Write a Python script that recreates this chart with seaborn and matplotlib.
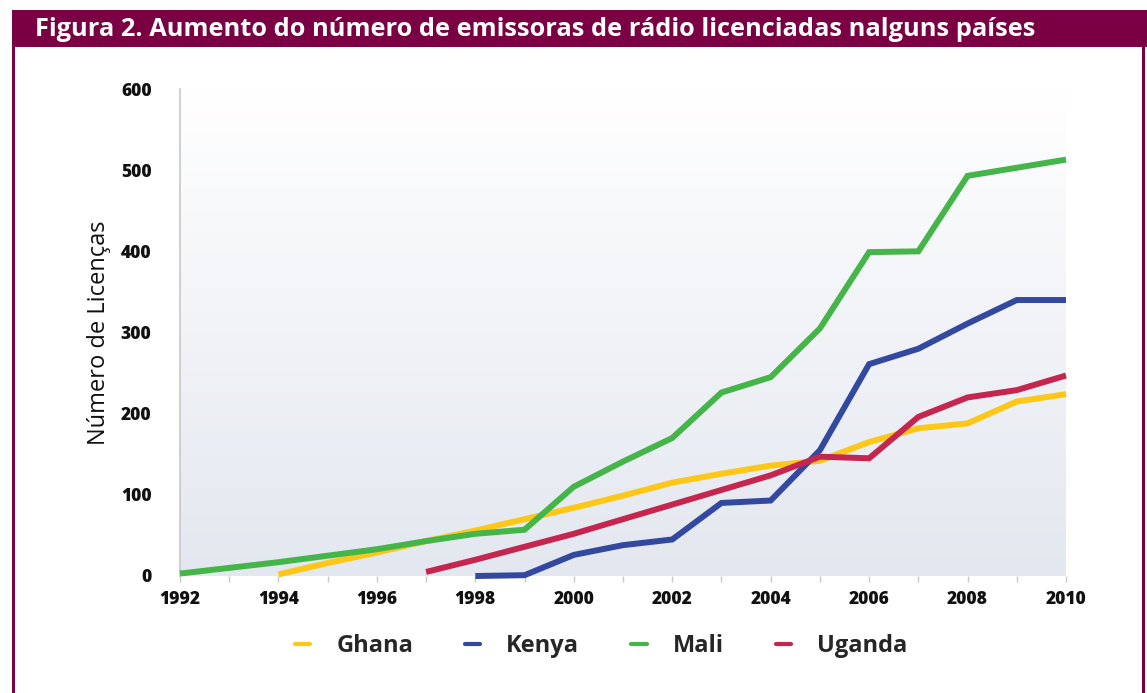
import numpy as np
import pandas as pd
import matplotlib
matplotlib.use("Agg")
import matplotlib.pyplot as plt
import seaborn as sns
from matplotlib.patches import Rectangle
from matplotlib.lines import Line2D
from matplotlib.colors import LinearSegmentedColormap

years = list(range(1992, 2011))
ghana = [np.nan, np.nan, 2, 16, 29, 43, 56, 70, 84, 99, 115, 126, 136, 142, 165, 182, 188, 215, 224]
kenya = [np.nan]*6 + [0, 1, 26, 38, 45, 90, 93, 155, 261, 280, 311, 340, 340]
mali = [3, 10, 17, 25, 33, 43, 52, 57, 110, 141, 170, 226, 245, 305, 399, 400, 493, 503, 513]
uganda = [np.nan]*5 + [5, 20, 36, 52, 70, 88, 106, 124, 147, 145, 196, 220, 229, 247]

countries = ["Ghana", "Kenya", "Mali", "Uganda"]
colors = ["#FDC718", "#3349A0", "#45B549", "#C5264F"]

title = "Figura 2. Aumento do número de emissoras de rádio licenciadas nalguns países"
ylabel = "Número de Licenças"

df = pd.DataFrame({"Ano": years, "Ghana": ghana, "Kenya": kenya, "Mali": mali, "Uganda": uganda})
long = df.melt(id_vars="Ano", var_name="País", value_name="Licenças").dropna()

sns.set_theme(style="white")
plt.rcParams["font.family"] = ["Open Sans", "DejaVu Sans"]

W, H = 1147, 693
fig = plt.figure(figsize=(W/100, H/100), dpi=100)
maroon = "#7A0043"

fig.patches.append(Rectangle((12/W, 1-47/H), 1-12/W, 37/H, transform=fig.transFigure,
                             facecolor=maroon, edgecolor="none", zorder=0))
fig.patches.append(Rectangle((12/W, 0), 3/W, 1-47/H, transform=fig.transFigure,
                             facecolor=maroon, edgecolor="none", zorder=0))
fig.patches.append(Rectangle((1142/W, 0), 3/W, 1-47/H, transform=fig.transFigure,
                             facecolor=maroon, edgecolor="none", zorder=0))
fig.text(35/W, 1-29/H, title, color="white", fontsize=18.3, fontweight="bold",
         va="center", ha="left")

ax = fig.add_axes([180/W, 1-576/H, (1066-180)/W, (576-89)/H])
grad = np.linspace(0, 1, 256).reshape(-1, 1)
cmap = LinearSegmentedColormap.from_list("bg", ["#E3E7EF", "#FFFFFF"])
ax.imshow(grad, cmap=cmap, aspect="auto", extent=[1992, 2010, 0, 600], origin="lower", zorder=0)

sns.lineplot(data=long, x="Ano", y="Licenças", hue="País", hue_order=countries,
             palette=colors, linewidth=4.3, ax=ax, legend=False, zorder=3)
for ln in ax.lines:
    ln.set_clip_on(False)
    ln.set_solid_capstyle("butt")
    ln.set_solid_joinstyle("miter")

ax.set_xlim(1992, 2010)
ax.set_ylim(0, 600)
ax.set_xticks(range(1992, 2011, 2))
ax.set_xticks(range(1992, 2011), minor=True)
ax.set_yticks(range(0, 601, 100))
ax.set_xlabel("")
ax.set_ylabel(ylabel, fontsize=17, labelpad=7, color="#111111")
for s in ["top", "right"]:
    ax.spines[s].set_visible(False)
ax.spines["left"].set_color("#C8C8C8")
ax.spines["left"].set_linewidth(1.2)
ax.spines["bottom"].set_visible(False)
ax.tick_params(axis="x", which="both", bottom=True, length=4, color="#C8C8C8", width=1, pad=7)
ax.tick_params(axis="y", left=False, pad=14.5)
for lab in ax.get_xticklabels() + ax.get_yticklabels():
    lab.set_fontweight("heavy")
    lab.set_fontsize(12.5)
    lab.set_color("#111111")

handles = [Line2D([0], [0], color=c, linewidth=3) for c in colors]
fig.legend(handles, countries, loc="center", bbox_to_anchor=(601/W, 1-646/H), ncol=4,
           frameon=False, handlelength=0.65, handletextpad=1.1, columnspacing=2.2,
           prop={"weight": "bold", "size": 17})

fig.savefig("out.png", dpi=100)
